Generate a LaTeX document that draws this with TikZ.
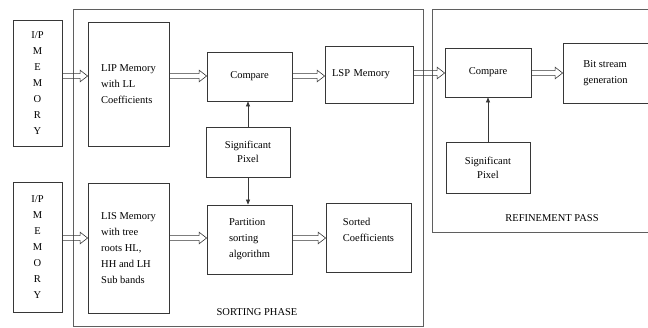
\documentclass[tikz,border=0pt]{standalone}
\usepackage{fontspec}
\setmainfont{Liberation Serif}
\usetikzlibrary{arrows.meta,calc}
\definecolor{boxc}{RGB}{55,55,55}
\definecolor{framec}{RGB}{95,95,95}
\newcommand{\blockarrow}[3]{%
  \path (0,#3) coordinate (bay);
  \coordinate (bas) at (#1.east |- bay);
  \coordinate (bae) at (#2.west |- bay);
  \draw[barrow] ($(bas)+(0,-2.4)$) -- ($(bae)+(-7.5,-2.4)$) -- ($(bae)+(-7.5,-5.8)$) -- (bae)
     -- ($(bae)+(-7.5,5.8)$) -- ($(bae)+(-7.5,2.4)$) -- ($(bas)+(0,2.4)$);
}
\begin{document}
\begin{tikzpicture}[x=1pt,y=-1pt,
  box/.style={draw=boxc, line width=0.8pt, inner sep=0pt, align=center,
    font=\fontsize{10.5}{16}\selectfont},
  boxl/.style={box, align=left},
  frame/.style={draw=framec, line width=0.8pt},
  barrow/.style={draw=boxc, line width=0.6pt, line join=miter},
  tarrow/.style={draw=boxc, line width=0.6pt, -{Triangle[length=5pt,width=4pt]}},
  lbl/.style={font=\fontsize{10.5}{16}\selectfont, inner sep=0pt}]
\useasboundingbox (0,0) rectangle (648,327);
% frames
\draw[frame] (73,9) rectangle (423,326);
\draw[frame] (648,9) -- (432,9) -- (432,232) -- (648,232);
% boxes
\node[box, minimum width=49, minimum height=126] (ip1) at (37.5,83) {I/P\\M\\E\\M\\O\\R\\Y};
\node[box, minimum width=49, minimum height=130] (ip2) at (37.5,247) {I/P\\M\\E\\M\\O\\R\\Y};
\node[boxl, minimum width=81, minimum height=124] (lip) at (128.5,84) {LIP Memory\\with LL\\Coefficients};
\node[boxl, minimum width=81, minimum height=130] (lis) at (128.5,248) {LIS Memory\\with tree\\roots HL,\\HH and LH\\Sub bands};
\node[box, minimum width=85, minimum height=49] (cmp1) at (249.5,76.5) {Compare};
\node[box, minimum width=84, minimum height=50, font=\fontsize{10.5}{14}\selectfont] (sig1) at (248,152) {Significant\\Pixel};
\node[boxl, minimum width=85, minimum height=69] (part) at (249.5,239.5) {Partition\\sorting\\algorithm};
\node[boxl, inner xsep=7pt, text width=74pt, minimum height=57] (lsp) at (369,74.5) {LSP Memory};
\node[boxl, minimum width=85, minimum height=69] (sorted) at (368.5,237.5) {Sorted\\Coefficients\\~};
\node[box, minimum width=86, minimum height=49] (cmp2) at (488,72.5) {Compare};
\node[boxl, minimum width=85, minimum height=60] (bit) at (605.5,73) {Bit stream\\generation};
\node[box, minimum width=84, minimum height=51, font=\fontsize{10.5}{14}\selectfont] (sig2) at (488,167.5) {Significant\\Pixel};
% labels
\node[lbl] (sortlbl) at (257,312) {SORTING PHASE};
\node[lbl] (reflbl) at (552,218) {REFINEMENT PASS};
% block arrows
\blockarrow{ip1}{lip}{76}
\blockarrow{lip}{cmp1}{76}
\blockarrow{cmp1}{lsp}{76}
\blockarrow{lsp}{cmp2}{73}
\blockarrow{cmp2}{bit}{73}
\blockarrow{ip2}{lis}{238}
\blockarrow{lis}{part}{238}
\blockarrow{part}{sorted}{238}
% thin arrows
\draw[tarrow] (sig1.north) -- (sig1.north |- cmp1.south);
\draw[tarrow] (sig1.south) -- (sig1.south |- part.north);
\draw[tarrow] (sig2.north) -- (sig2.north |- cmp2.south);
\end{tikzpicture}
\end{document}
